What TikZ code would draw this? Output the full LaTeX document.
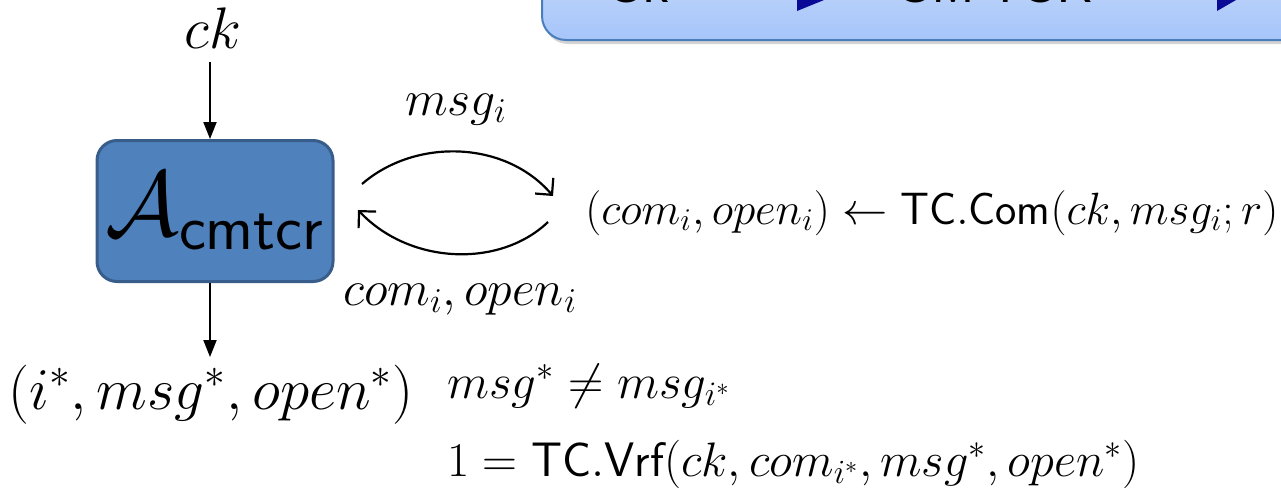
\RequirePackage{fix-cm}
\documentclass[tikz,border=0pt]{standalone}
\usepackage{fontspec}
\newfontfamily\bannerfont{Liberation Sans}
\usetikzlibrary{arrows.meta,shadows,calc}
\newcommand\fsz[1]{\fontsize{#1}{#1}\selectfont}
\definecolor{boxfill}{RGB}{79,129,189}
\definecolor{boxdraw}{RGB}{56,93,138}
\definecolor{bantop}{RGB}{205,222,250}
\definecolor{banbot}{RGB}{166,197,250}
\definecolor{bandraw}{RGB}{74,126,187}
\definecolor{navyarrow}{RGB}{10,10,150}
\tikzset{
  straightarr/.style={line width=1pt,-{Triangle[length=8.5pt,width=6.5pt]}},
  curvedarr/.style={line width=1.1pt,-{Straight Barb[length=6pt,width=12pt,line width=1.1pt]}},
  lbl/.style={inner sep=0pt,anchor=base},
  agent/.style={draw=boxdraw,fill=boxfill,line width=1.5pt,rounded corners=10pt,
    minimum width=118pt,minimum height=70.5pt,inner sep=0pt},
  banner/.style={draw=bandraw,line width=1pt,rounded corners=12pt,top color=bantop,bottom color=banbot,
    drop shadow={shadow xshift=1pt,shadow yshift=-2pt,opacity=0.35}},
}
\begin{document}
\begin{tikzpicture}[x=0.5pt,y=-0.5pt]
\useasboundingbox (0,0) rectangle (1281,488);
% banner (cut off at top)
\node[banner,minimum width=400pt,minimum height=50pt] (ban) at (942,-10) {};
\node[lbl,font=\bannerfont\fsz{25}] (bck) at (638,2) {Ck};
\node[lbl,font=\bannerfont\fsz{25}] (bcm) at (995,2) {CM-TCR};
\fill[navyarrow] (797,11) -- (861,-15) -- (797,-41) -- cycle;
\fill[navyarrow] (1217,11) -- (1262,-15) -- (1217,-41) -- cycle;
% main diagram
\node[lbl,font=\fsz{29.3}] (ck) at (213,48) {$ck$};
\node[agent] (A) at (215,211) {\fsz{46}$\mathcal{A}_{\mathsf{cmtcr}}$};
\node[lbl,font=\fsz{29.6}] (out) at (211,409) {$(i^*,msg^*,open^*)$};
\coordinate (ckb) at (210,62);
\coordinate (outt) at (210,357);
\draw[straightarr] (ckb) -- (ckb |- A.north);
\draw[straightarr] (ckb |- A.south) -- (outt);
\coordinate (t1) at (362,184);
\coordinate (t2) at (553,196);
\coordinate (b1) at (548,222);
\coordinate (b2) at (358,210);
\draw[curvedarr] (t1) .. controls (415,138) and (505,140) .. (t2);
\draw[curvedarr] (b1) .. controls (500,268) and (410,265) .. (b2);
\node[lbl,font=\fsz{24.9}] (msgi) at (456,115) {$msg_i$};
\node[lbl,font=\fsz{24.9}] (comi) at (460,305) {$com_i,open_i$};
\node[lbl,font=\fsz{22.6},anchor=base west] (tccom) at (585,224) {$(com_i,open_i)\leftarrow\mathsf{TC.Com}(ck,msg_i;r)$};
\node[lbl,font=\fsz{24.5},anchor=base west] (neq) at (447,398) {$msg^*\neq msg_{i^*}$};
\node[lbl,font=\fsz{24.2},anchor=base west] (vrf) at (447,476) {$1=\mathsf{TC.Vrf}(ck,com_{i^*},msg^*,open^*)$};
\end{tikzpicture}
\end{document}
